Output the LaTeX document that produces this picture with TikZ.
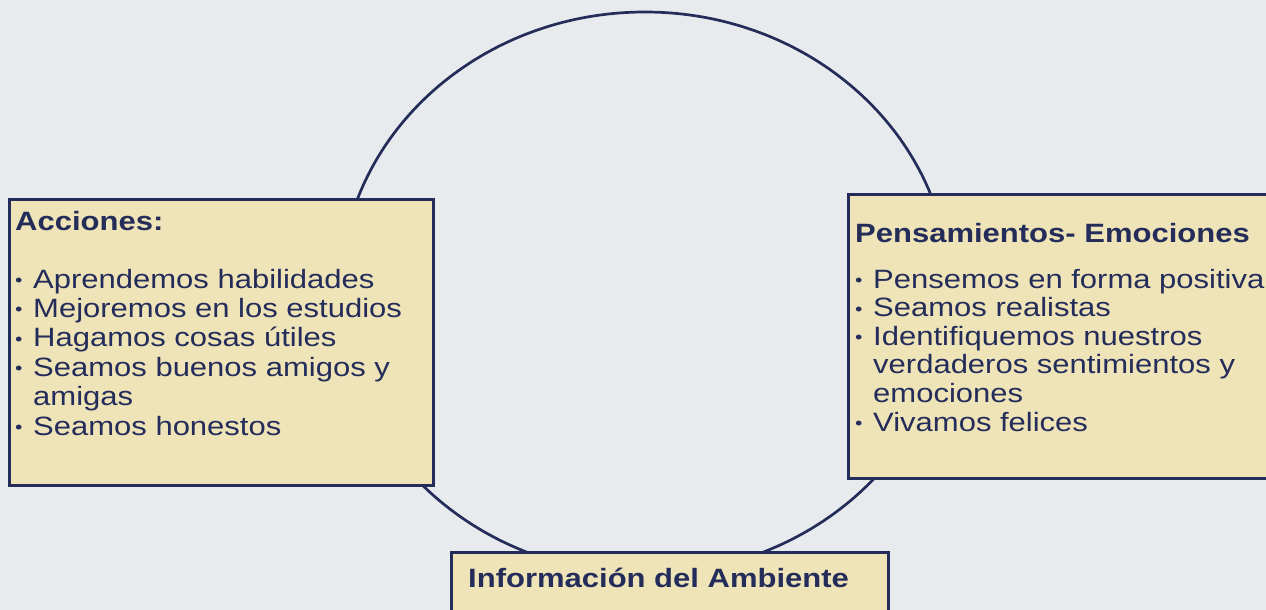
\documentclass[tikz,border=0pt]{standalone}
\usepackage{fontspec}
\newfontfamily\cajafont[FakeStretch=1.17]{Liberation Sans}
\usetikzlibrary{positioning}

\definecolor{azulosc}{RGB}{36,44,90}
\definecolor{crema}{RGB}{239,228,184}
\definecolor{fondo}{RGB}{232,235,237}

% vineta pequena y sangria de continuacion
\newcommand{\vin}{\makebox[18pt][l]{\raisebox{1.5pt}{\fontsize{18}{18}\selectfont •}}}
\newcommand{\sangria}{\hspace*{18pt}}

\begin{document}
\begin{tikzpicture}[x=1pt, y=-1pt,
    caja/.style={draw=azulosc, line width=3pt, fill=crema, inner sep=0pt, anchor=north west},
    titulo/.style={font={\cajafont\bfseries\fontsize{26.5}{30}\selectfont}, text=azulosc, inner sep=0pt, anchor=base west},
    linea/.style={font={\cajafont\fontsize{26.5}{30}\selectfont}, text=azulosc, inner sep=0pt, anchor=base west}]
        \fill[fondo] (0,0) rectangle (1266,610);
        \useasboundingbox (0,0) rectangle (1266,610);

        \coordinate (centro) at (645,293);
        \draw[azulosc, line width=2.7pt] (centro) ellipse [x radius=305, y radius=281];

        \node[caja, minimum width=424pt, minimum height=286pt] (acciones) at (8,198) {};
        \node[caja, minimum width=450pt, minimum height=284pt] (pensam) at (847,193) {};
        \node[caja, minimum width=437pt, minimum height=100pt] (ambiente) at (450,551) {};

        \node[titulo] (accTit) at (15,230) {Acciones:};
        \node[titulo] (penTit) at (855,242) {Pensamientos- Emociones};
        \node[titulo] (ambTit) at (468,587) {Información del Ambiente};

        \foreach \t [count=\i from 0] in {\vin Aprendemos habilidades, \vin Mejoremos en los estudios,
            \vin Hagamos cosas útiles, \vin Seamos buenos amigos y, \sangria amigas, \vin Seamos honestos}
            \node[linea] (acc\i) at (15,288+29.4*\i) {\t};

        \foreach \t [count=\i from 0] in {\vin Pensemos en forma positiva, \vin Seamos realistas,
            \vin Identifiquemos nuestros, \sangria verdaderos sentimientos y, \sangria emociones, \vin Vivamos felices}
            \node[linea] (pen\i) at (855,288+28.6*\i) {\t};
    \end{tikzpicture}
\end{document}
